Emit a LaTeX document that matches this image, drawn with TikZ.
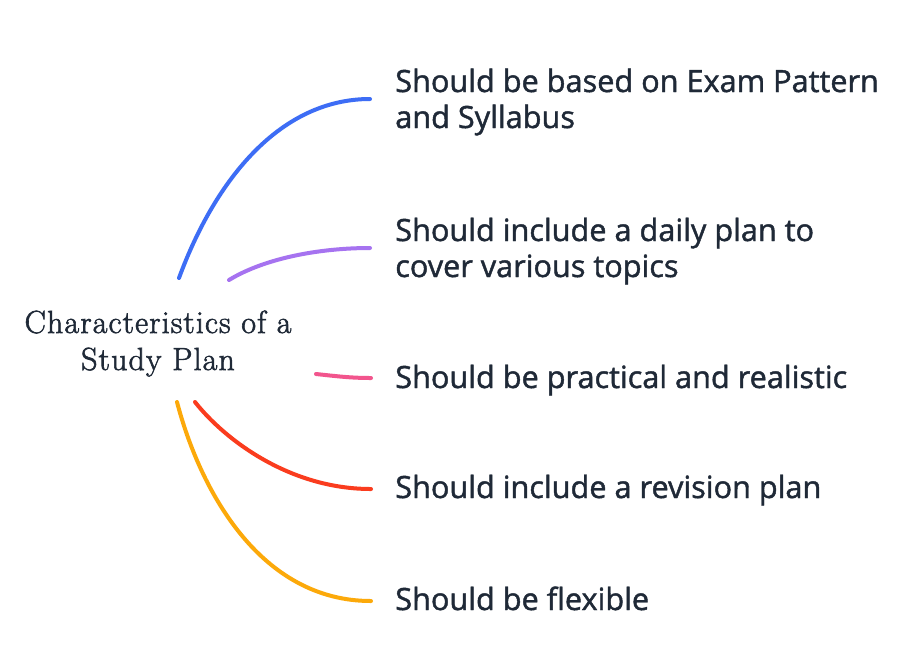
\documentclass[tikz,border=0pt]{standalone}
\usepackage{fontspec}
\newfontfamily\lblfont{Open Sans}[FakeBold=1.4]
\newfontfamily\ctrfont{Latin Modern Roman}[FakeBold=1.8,LetterSpace=3.5]
\definecolor{txt}{HTML}{1F2937}
\definecolor{cblue}{HTML}{3D6DF5}
\definecolor{cpurple}{HTML}{A673F0}
\definecolor{cpink}{HTML}{F2558D}
\definecolor{cred}{HTML}{FA3C1E}
\definecolor{corange}{HTML}{FCA90A}
\begin{document}
\begin{tikzpicture}[x=0.75pt,y=-0.75pt,
  lbl/.style={font=\lblfont\fontsize{23}{27}\selectfont, text=txt, inner sep=0pt, align=left, anchor=base west},
  ctr/.style={font=\ctrfont\fontsize{24}{27.75}\selectfont, text=txt, inner sep=0pt, align=center, anchor=base},
  br/.style={line width=3pt, line cap=round}]
\useasboundingbox[fill=white] (0,0) rectangle (898,651);
\node[ctr] (c) at (158,370) {Characteristics of a\\Study Plan};
\node[lbl] (t1) at (395,128) {Should be based on Exam Pattern\\and Syllabus};
\node[lbl] (t2) at (395,277) {Should include a daily plan to\\cover various topics};
\node[lbl] (t3) at (395,388) {Should be practical and realistic};
\node[lbl] (t4) at (395,498) {Should include a revision plan};
\node[lbl] (t5) at (395,610) {Should be flexible};
\coordinate (s1) at (179,278); \coordinate (e1) at (370,99);
\coordinate (s2) at (229,280); \coordinate (e2) at (370,248);
\coordinate (s3) at (316,374); \coordinate (e3) at (371,378);
\coordinate (s4) at (195,402); \coordinate (e4) at (371,489);
\coordinate (s5) at (177,402); \coordinate (e5) at (371,601);
\draw[br,cblue] (s1) .. controls (215,180) and (280,99) .. (e1);
\draw[br,cpurple] (s2) .. controls (265,258) and (320,248) .. (e2);
\draw[br,cpink] (s3) .. controls (335,376) and (350,378) .. (e3);
\draw[br,cred] (s4) .. controls (225,440) and (290,489) .. (e4);
\draw[br,corange] (s5) .. controls (200,490) and (260,601) .. (e5);
\end{tikzpicture}
\end{document}
